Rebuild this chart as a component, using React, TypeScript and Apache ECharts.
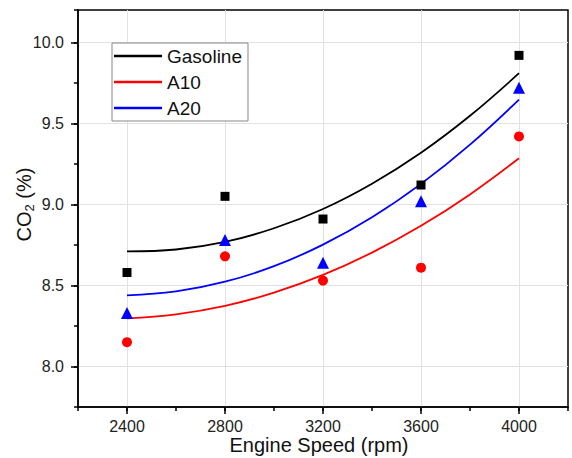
import React, { useEffect, useRef } from "react";
import * as echarts from "echarts";

const rpm = [2400, 2800, 3200, 3600, 4000];
const gasoline = [8.58, 9.05, 8.91, 9.12, 9.92];
const a10 = [8.15, 8.68, 8.53, 8.61, 9.42];
const a20 = [8.33, 8.78, 8.64, 9.02, 9.72];

const fitRpm = [2400, 2600, 2800, 3000, 3200, 3400, 3600, 3800, 4000];
const gasolineFit = [8.71, 8.722, 8.769, 8.853, 8.972, 9.128, 9.319, 9.547, 9.81];
const a10Fit = [8.297, 8.322, 8.374, 8.456, 8.565, 8.703, 8.868, 9.062, 9.285];
const a20Fit = [8.439, 8.463, 8.523, 8.619, 8.752, 8.921, 9.127, 9.369, 9.647];

const xMajor = [2400, 2800, 3200, 3600, 4000];
const yMajor = [8.0, 8.5, 9.0, 9.5, 10.0];
const seriesNames = ["Gasoline", "A10", "A20"];

const FONT = "'Liberation Sans', Arial, Helvetica, sans-serif";

export default function App() {
  const ref = useRef<HTMLDivElement>(null);
  useEffect(() => {
    if (!ref.current) return;
    const chart = echarts.init(ref.current, null, { renderer: "svg" });
    const pair = (xs: number[], ys: number[]) => xs.map((x, i) => [x, ys[i]]);
    const colors = ["#000000", "#ff0000", "#0000ff"];
    const fits = [gasolineFit, a10Fit, a20Fit];
    const pts = [gasoline, a10, a20];
    const symbols = ["rect", "circle", "triangle"];
    const sizes = [9, 10, 12];
    const gridColor = "#e2e2e2";
    const axisCommon = {
      axisLine: { show: true, onZero: false, lineStyle: { color: "#000", width: 1.5 } },
    };
    chart.setOption({
      animation: false,
      textStyle: { fontFamily: FONT },
      grid: {
        left: 78,
        top: 10,
        right: 4,
        bottom: 51,
        containLabel: false,
        outerBoundsMode: "none",
        show: true,
        borderColor: "#000",
        borderWidth: 1.5,
        backgroundColor: "#fff",
      },
      legend: {
        data: seriesNames,
        orient: "vertical",
        left: 112,
        top: 43,
        icon: "rect",
        itemWidth: 48,
        itemHeight: 2.5,
        itemGap: 6,
        padding: [3, 6, 3, 2],
        borderColor: "#888",
        borderWidth: 1,
        backgroundColor: "#fff",
        textStyle: { fontSize: 19, lineHeight: 20, color: "#111", fontFamily: FONT },
      },
      xAxis: [
        {
          type: "value",
          min: 2200,
          max: 4200,
          interval: 200,
          ...axisCommon,
          axisTick: { show: true, customValues: xMajor, length: 7, lineStyle: { color: "#000", width: 1.5 } },
          axisLabel: {
            customValues: xMajor,
            fontSize: 16,
            color: "#222",
            margin: 11,
            fontFamily: FONT,
            formatter: (v: number) => String(v),
          },
          splitLine: { show: true, lineStyle: { color: gridColor, width: 1 } },
          name: "Engine Speed (rpm)",
          nameLocation: "middle",
          nameGap: 27,
          nameMoveOverlap: false,
          nameTextStyle: { fontSize: 20, lineHeight: 22, color: "#111", fontFamily: FONT, padding: [0, 8, 0, 0] },
        },
        {
          type: "value",
          min: 2200,
          max: 4200,
          interval: 200,
          position: "bottom",
          axisLine: { show: false },
          axisTick: { show: true, length: 4, lineStyle: { color: "#000", width: 1.5 } },
          axisLabel: { show: false },
          splitLine: { show: false },
        },
      ],
      yAxis: [
        {
          type: "value",
          min: 7.75,
          max: 10.2,
          interval: 0.25,
          ...axisCommon,
          axisTick: { show: true, customValues: yMajor, length: 7, lineStyle: { color: "#000", width: 1.5 } },
          axisLabel: {
            customValues: yMajor,
            fontSize: 16,
            color: "#222",
            margin: 14,
            fontFamily: FONT,
            formatter: (v: number) => v.toFixed(1),
          },
          splitLine: { show: true, lineStyle: { color: gridColor, width: 1 } },
          name: "{a|CO}{b|2}{a| (%)}",
          nameLocation: "middle",
          nameGap: 42,
          nameMoveOverlap: false,
          nameTextStyle: {
            color: "#111",
            padding: [0, 0, 0, 8],
            rich: {
              a: { fontSize: 20, lineHeight: 24, fontFamily: FONT, color: "#111" },
              b: { fontSize: 13, lineHeight: 10, verticalAlign: "bottom", fontFamily: FONT, color: "#111" },
            },
          },
        },
        {
          type: "value",
          min: 7.75,
          max: 10.2,
          interval: 0.25,
          position: "left",
          axisLine: { show: false },
          axisTick: { show: true, length: 4, lineStyle: { color: "#000", width: 1.5 } },
          axisLabel: { show: false },
          splitLine: { show: false },
        },
      ],
      series: [
        ...seriesNames.map((name, i) => ({
          name,
          type: "line",
          xAxisIndex: 0,
          yAxisIndex: 0,
          data: pair(fitRpm, fits[i]),
          smooth: 0.4,
          showSymbol: false,
          symbol: "none",
          color: colors[i],
          lineStyle: { color: colors[i], width: 1.8 },
          z: 2,
        })),
        ...seriesNames.map((name, i) => ({
          name: name + " data",
          type: "scatter",
          xAxisIndex: 0,
          yAxisIndex: 0,
          data: pair(rpm, pts[i]),
          symbol: symbols[i],
          symbolSize: sizes[i],
          itemStyle: { color: colors[i], opacity: 1 },
          z: 3,
        })),
      ],
    });
    return () => chart.dispose();
  }, []);
  return (
    <div
      ref={ref}
      style={{ position: "fixed", left: 0, top: 0, width: 572, height: 458, background: "#fff" }}
    />
  );
}
